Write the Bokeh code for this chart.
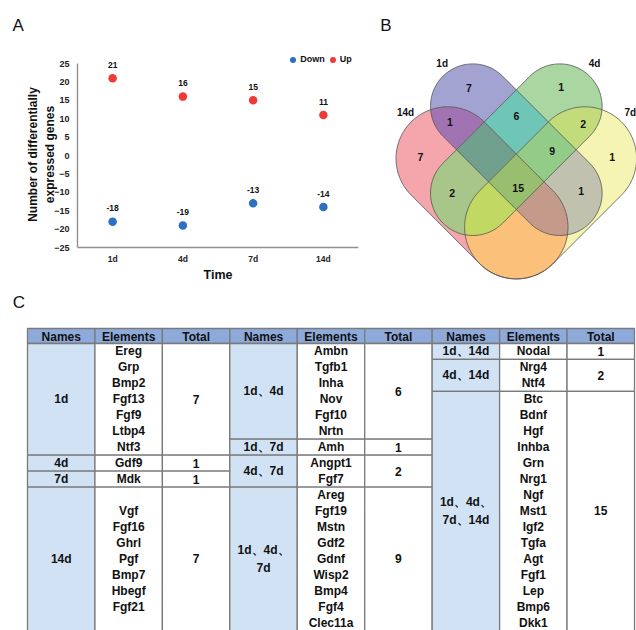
import math
from itertools import combinations
from bokeh.plotting import figure
from bokeh.models import (Range1d, FactorRange, FixedTicker, Legend, LegendItem,
                          ColumnDataSource)
from bokeh.layouts import column, row
from bokeh.embed import file_html
from bokeh.resources import INLINE
from bokeh.core.properties import value

# ------------------------------------------------------------------ data
times = ["1d", "4d", "7d", "14d"]
up_counts = [21, 16, 15, 11]
down_counts = [-18, -19, -13, -14]
y_ticks = [-25, -20, -15, -10, -5, 0, 5, 10, 15, 20, 25]
y_title_lines = ["Number of differentially", "expressed genes"]

venn_sets = ["1d", "4d", "7d", "14d"]
venn_region_sets = [("1d",), ("4d",), ("7d",), ("14d",), ("1d", "14d"), ("1d", "4d"),
                    ("4d", "7d"), ("1d", "4d", "7d"), ("1d", "7d"), ("4d", "14d"),
                    ("1d", "4d", "7d", "14d")]
venn_region_counts = [7, 1, 1, 7, 1, 6, 2, 9, 1, 2, 15]

table_headers = ["Names", "Elements", "Total"]
g1_names = ["1d", "4d", "7d", "14d"]
g1_elements = [["Ereg", "Grp", "Bmp2", "Fgf13", "Fgf9", "Ltbp4", "Ntf3"], ["Gdf9"], ["Mdk"],
               ["Vgf", "Fgf16", "Ghrl", "Pgf", "Bmp7", "Hbegf", "Fgf21"]]
g1_totals = [7, 1, 1, 7]
g2_names = ["1d、4d", "1d、7d", "4d、7d", "1d、4d、7d"]
g2_elements = [["Ambn", "Tgfb1", "Inha", "Nov", "Fgf10", "Nrtn"], ["Amh"], ["Angpt1", "Fgf7"],
               ["Areg", "Fgf19", "Mstn", "Gdf2", "Gdnf", "Wisp2", "Bmp4", "Fgf4", "Clec11a"]]
g2_totals = [6, 1, 2, 9]
g3_names = ["1d、14d", "4d、14d", "1d、4d、7d、14d"]
g3_elements = [["Nodal"], ["Nrg4", "Ntf4"],
               ["Btc", "Bdnf", "Hgf", "Inhba", "Grn", "Nrg1", "Ngf", "Mst1", "Igf2", "Tgfa",
                "Agt", "Fgf1", "Lep", "Bmp6", "Dkk1"]]
g3_totals = [1, 2, 15]

# ------------------------------------------------------------------ layout / style
FONT = "Liberation Sans"
RED = "#EF3A35"
BLUE = "#2B70C2"
AXIS = "#8F8F8F"
TXT = "#111111"
W_A, W_B, H_TOP, H_BOT = 365, 271, 290, 340
TOP_BORDER = 48          # room for the panel letters A / B
NBSP = "\u00a0"


def style_title(p, letter_x, frame_left):
    p.title.text_font = FONT
    p.title.text_font_size = "17px"
    p.title.text_font_style = "normal"
    p.title.text_color = TXT
    p.title.align = "left"
    p.title.vertical_align = "top"
    p.title.standoff = 24
    p.title.offset = letter_x - frame_left


# ------------------------------------------------------------------ panel A
AX_L, AX_R, AX_T, AX_B = 77.0, 358.0, 63.0, 247.0   # axes box on the page (px)
ppu = (AX_B - AX_T) / 50.0
y_start = -25 - (H_TOP - AX_B) / ppu
y_end = 25 + (AX_T - TOP_BORDER) / ppu

pa = figure(width=W_A, height=H_TOP, x_range=FactorRange(factors=times),
            y_range=Range1d(y_start, y_end), output_backend="svg", toolbar_location=None,
            min_border_left=int(AX_L), min_border_right=int(W_A - AX_R),
            min_border_top=TOP_BORDER, min_border_bottom=0, title="A")
style_title(pa, 12.0, AX_L)
pa.outline_line_color = None
pa.grid.grid_line_color = None

for ax in (pa.xaxis[0], pa.yaxis[0]):
    ax.axis_line_color = AXIS
    ax.axis_line_width = 1.4
    ax.major_tick_line_color = None
    ax.minor_tick_line_color = None
    ax.major_tick_out = 0
    ax.major_tick_in = 0
    ax.major_label_text_font = FONT
    ax.major_label_text_font_style = "bold"
    ax.major_label_text_color = "#222222"
    ax.axis_label_text_font = FONT
    ax.axis_label_text_font_style = "bold"
    ax.axis_label_text_color = TXT

# the axis title is centred on the whole frame; pad its start so that it is
# centred on the bounded axis line (-25 .. 25) as in the original
pad = NBSP * 9
pa.yaxis[0].ticker = FixedTicker(ticks=y_ticks)
pa.yaxis[0].bounds = (-25, 25)
pa.yaxis[0].major_label_text_font_size = "9px"
pa.yaxis[0].major_label_standoff = 8
pa.yaxis[0].axis_label = "\n".join(pad + s for s in y_title_lines)
pa.yaxis[0].axis_label_text_font_size = "12px"
pa.yaxis[0].axis_label_standoff = -6
pa.xaxis[0].fixed_location = -25
pa.xaxis[0].major_label_text_font_size = "8.5px"
pa.xaxis[0].major_label_standoff = 6
pa.xaxis[0].axis_label = "Time"
pa.xaxis[0].axis_label_text_font_size = "12.5px"
pa.xaxis[0].axis_label_standoff = 1

src_down = ColumnDataSource(dict(x=times, y=down_counts, t=[str(v) for v in down_counts]))
src_up = ColumnDataSource(dict(x=times, y=up_counts, t=[str(v) for v in up_counts]))
r_down = pa.scatter("x", "y", source=src_down, size=8.5, fill_color=BLUE, line_color=None)
r_up = pa.scatter("x", "y", source=src_up, size=8.5, fill_color=RED, line_color=None)
for src in (src_down, src_up):
    pa.text("x", "y", text="t", source=src, y_offset=-13.5, text_align="center",
            text_baseline="middle", text_font=value(FONT), text_font_style="bold",
            text_font_size="8.5px", text_color=TXT)

LEG_LEFT, LEG_BOTTOM = 285.2, 66.5   # page px
legend = Legend(items=[LegendItem(label="Down", renderers=[r_down]),
                       LegendItem(label="Up", renderers=[r_up])],
                orientation="horizontal", location=(LEG_LEFT - AX_L, H_TOP - LEG_BOTTOM),
                margin=0, padding=0, spacing=0, glyph_width=15, glyph_height=15,
                label_height=15, label_standoff=-3, label_text_font=FONT,
                label_text_font_size="9px", label_text_font_style="bold",
                label_text_color=TXT, border_line_color=None, background_fill_alpha=0)
pa.add_layout(legend)

# ------------------------------------------------------------------ panel B (Venn)
venn_shapes = {  # cap centre 1, cap centre 2, radius (page px)
    "1d": ((472.3, 105.7), (559.3, 192.7), 42.3),
    "4d": ((559.3, 105.7), (472.3, 192.7), 42.3),
    "7d": ((584.4, 158.0), (515.8, 226.7), 51.7),
    "14d": ((447.2, 158.0), (515.8, 226.7), 51.7),
}
region_colors = {
    ("1d",): "#A3A3D1", ("4d",): "#A9D6A1", ("7d",): "#F6F4B3", ("14d",): "#F4A6AC",
    ("1d", "4d"): "#6FC6B7", ("1d", "7d"): "#C1C1B0", ("1d", "14d"): "#A173B2",
    ("4d", "7d"): "#C3DC7B", ("4d", "14d"): "#A8C689", ("7d", "14d"): "#FBC17A",
    ("1d", "4d", "7d"): "#93CC89", ("1d", "4d", "14d"): "#71A08F",
    ("1d", "7d", "14d"): "#C49B8B", ("4d", "7d", "14d"): "#C1D962",
    ("1d", "4d", "7d", "14d"): "#98BE6F",
}
venn_label_xy = [(468.3, 87.3), (560.7, 86.0), (611.7, 156.0), (420.0, 156.0), (449.3, 121.0),
                 (516.0, 115.0), (582.7, 123.3), (551.7, 150.7), (580.7, 190.7), (451.7, 192.7),
                 (517.7, 187.3)]
set_label_xy = [(441.7, 62.7), (594.0, 62.7), (629.8, 111.7), (405.0, 112.0)]


def convex_hull(pts):
    pts = sorted(set(pts))

    def cross(o, a, b):
        return (a[0] - o[0]) * (b[1] - o[1]) - (a[1] - o[1]) * (b[0] - o[0])
    lower, upper = [], []
    for p in pts:
        while len(lower) >= 2 and cross(lower[-2], lower[-1], p) <= 0:
            lower.pop()
        lower.append(p)
    for p in reversed(pts):
        while len(upper) >= 2 and cross(upper[-2], upper[-1], p) <= 0:
            upper.pop()
        upper.append(p)
    return lower[:-1] + upper[:-1]


def stadium(c1, c2, r, n=120):
    pts = []
    for (cx, cy) in (c1, c2):
        for k in range(n):
            a = 2 * math.pi * k / n
            pts.append((cx + r * math.cos(a), cy + r * math.sin(a)))
    return convex_hull(pts)


def clip(subject, clipper):
    out = list(subject)
    n = len(clipper)
    for i in range(n):
        if not out:
            break
        a, b = clipper[i], clipper[(i + 1) % n]

        def inside(p):
            return (b[0] - a[0]) * (p[1] - a[1]) - (b[1] - a[1]) * (p[0] - a[0]) >= 0

        def inter(p, q):
            x1, y1 = p
            x2, y2 = q
            x3, y3 = a
            x4, y4 = b
            den = (x1 - x2) * (y3 - y4) - (y1 - y2) * (x3 - x4)
            t = ((x1 - x3) * (y3 - y4) - (y1 - y3) * (x3 - x4)) / den
            return (x1 + t * (x2 - x1), y1 + t * (y2 - y1))
        inp, out = out, []
        for j in range(len(inp)):
            cur, prev = inp[j], inp[j - 1]
            if inside(cur):
                if not inside(prev):
                    out.append(inter(prev, cur))
                out.append(cur)
            elif inside(prev):
                out.append(inter(prev, cur))
    return out


polys = {s: stadium(*venn_shapes[s]) for s in venn_sets}

pb = figure(width=W_B, height=H_TOP, x_range=Range1d(W_A, W_A + W_B),
            y_range=Range1d(H_TOP, TOP_BORDER), x_axis_type=None, y_axis_type=None,
            output_backend="svg", toolbar_location=None, min_border=0,
            min_border_top=TOP_BORDER, title="B")
style_title(pb, 379.8, W_A)
pb.outline_line_color = None

rx, ry, rc = [], [], []
for k in range(1, 5):
    for combo in combinations(venn_sets, k):
        poly = polys[combo[0]]
        for other in combo[1:]:
            poly = clip(poly, polys[other])
        if len(poly) < 3:
            continue
        ck = tuple(s for s in ["1d", "4d", "7d", "14d"] if s in combo)
        rx.append([p[0] for p in poly])
        ry.append([p[1] for p in poly])
        rc.append(region_colors[ck])
pb.patches(rx, ry, fill_color=rc, line_color=None)
pb.patches([[p[0] for p in polys[s]] for s in venn_sets],
           [[p[1] for p in polys[s]] for s in venn_sets],
           fill_alpha=0, line_color="#555555", line_width=0.8)

pb.text([lx for lx, ly in venn_label_xy], [ly for lx, ly in venn_label_xy],
        text=[str(c) for c in venn_region_counts], text_align="center", text_baseline="middle",
        text_font=value(FONT), text_font_style="bold", text_font_size="10.5px", text_color=TXT)
pb.text([lx for lx, ly in set_label_xy], [ly for lx, ly in set_label_xy],
        text=venn_sets, text_align="center", text_baseline="middle",
        text_font=value(FONT), text_font_style="bold", text_font_size="10px", text_color=TXT)

# ------------------------------------------------------------------ panel C (table)
pc = figure(width=W_A + W_B, height=H_BOT, x_range=Range1d(0, W_A + W_B),
            y_range=Range1d(H_TOP + H_BOT, H_TOP), x_axis_type=None, y_axis_type=None,
            output_backend="svg", toolbar_location=None, min_border=0, title=None)
pc.outline_line_color = None
pc.text([18.5], [301.5], text=["C"], text_align="center", text_baseline="middle",
        text_font=value(FONT), text_font_size="17px", text_color=TXT)

HEAD_FILL = "#8EAADB"
NAME_FILL = "#D0E2F4"
CELL_FILL = "#FFFFFF"
tx0, tx1 = 27.0, 634.0
col_w = (tx1 - tx0) / 9
hdr_top, hdr_bot = 328.0, 343.0
line_h = 15.95
groups = [(g1_names, g1_elements, g1_totals), (g2_names, g2_elements, g2_totals),
          (g3_names, g3_elements, g3_totals)]
n_rows = max(sum(len(e) for e in g[1]) for g in groups)


def wrap_name(name):
    parts = name.split("、")
    if len(parts) >= 3:
        return "、".join(parts[:2]) + "、\n" + "、".join(parts[2:])
    return name


ql, qr, qt, qb, qf = [], [], [], [], []
tx, ty, tt = [], [], []


def cell(l, t, b, fill):
    ql.append(l)
    qr.append(l + col_w)
    qt.append(t)
    qb.append(b)
    qf.append(fill)


for gi, (names, elems, totals) in enumerate(groups):
    for ci, h in enumerate(table_headers):
        l = tx0 + (3 * gi + ci) * col_w
        cell(l, hdr_top, hdr_bot, HEAD_FILL)
        tx.append(l + col_w / 2)
        ty.append((hdr_top + hdr_bot) / 2 + 0.5)
        tt.append(h)
    used = 0
    for bi, (nm, el, tot) in enumerate(zip(names, elems, totals)):
        nl = len(el) if bi < len(names) - 1 else n_rows - used
        top = hdr_bot + used * line_h
        bot = top + nl * line_h
        mid = (top + bot) / 2
        l0 = tx0 + 3 * gi * col_w
        cell(l0, top, bot, NAME_FILL)
        cell(l0 + col_w, top, bot, CELL_FILL)
        cell(l0 + 2 * col_w, top, bot, CELL_FILL)
        tx.append(l0 + col_w / 2)
        ty.append(mid)
        tt.append(wrap_name(nm))
        for ei, e in enumerate(el):
            tx.append(l0 + 1.5 * col_w)
            ty.append(mid + (ei - (len(el) - 1) / 2) * line_h)
            tt.append(e)
        tx.append(l0 + 2.5 * col_w)
        ty.append(mid)
        tt.append(str(tot))
        used += nl

pc.quad(left=ql, right=qr, top=qt, bottom=qb, fill_color=qf, line_color="#7A7A7A",
        line_width=1.3)
pc.text(tx, ty, text=tt, text_align="center", text_baseline="middle", text_font=value(FONT),
        text_font_style="bold", text_font_size="12px", text_color=TXT, text_line_height=1.3)

layout = column(row(pa, pb), pc)
open("out.html", "w").write(file_html(layout, INLINE))
